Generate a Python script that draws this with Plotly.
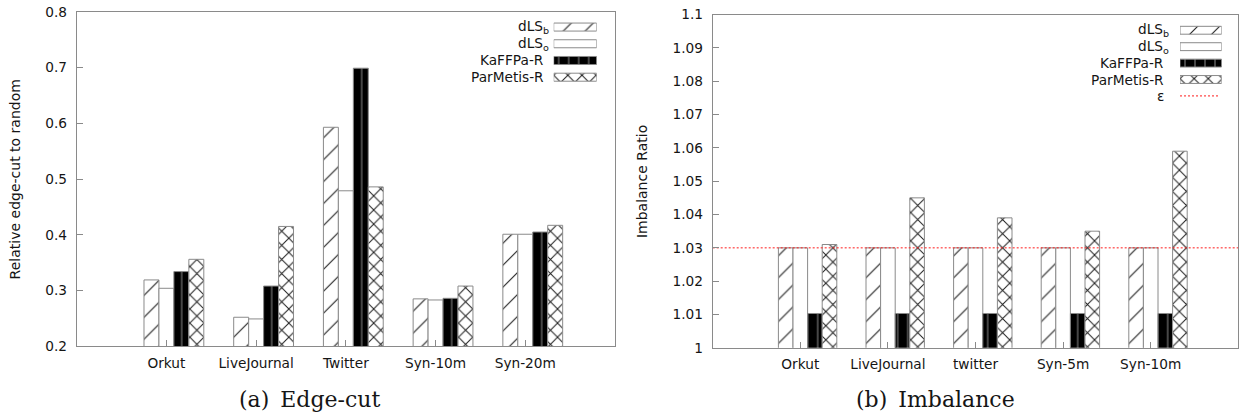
import plotly.graph_objects as go

W, H = 1245, 419
# vertical calibration of the photographed page (observed: y_photo = V_SCALE * y_layout + V_OFF)
V_SCALE, V_OFF = 0.961, 7.76

# ---------------- data ----------------
CATS_A = ["Orkut", "LiveJournal", "Twitter", "Syn-10m", "Syn-20m"]
CATS_B = ["Orkut", "LiveJournal", "twitter", "Syn-5m", "Syn-10m"]
SERIES = ["dLS<sub>b</sub>", "dLS<sub>o</sub>", "KaFFPa-R", "ParMetis-R"]
EPS_LABEL = "ε"

EDGECUT_DLSB = [0.319, 0.252, 0.593, 0.285, 0.401]
EDGECUT_DLSO = [0.304, 0.249, 0.479, 0.283, 0.401]
EDGECUT_KAFFPA = [0.334, 0.308, 0.699, 0.286, 0.405]
EDGECUT_PARMETIS = [0.356, 0.415, 0.486, 0.308, 0.417]

IMB_DLSB = [1.030, 1.030, 1.030, 1.030, 1.030]
IMB_DLSO = [1.030, 1.030, 1.030, 1.030, 1.030]
IMB_KAFFPA = [1.0103, 1.0103, 1.0103, 1.0103, 1.0103]
IMB_PARMETIS = [1.031, 1.045, 1.039, 1.035, 1.059]
EPSILON = 1.03

YTICKS_A = [0.2, 0.3, 0.4, 0.5, 0.6, 0.7, 0.8]
YTICKTEXT_A = ["0.2", "0.3", "0.4", "0.5", "0.6", "0.7", "0.8"]
YTICKS_B = [1.0, 1.01, 1.02, 1.03, 1.04, 1.05, 1.06, 1.07, 1.08, 1.09, 1.1]
YTICKTEXT_B = ["1", "1.01", "1.02", "1.03", "1.04", "1.05", "1.06", "1.07", "1.08", "1.09", "1.1"]

YTITLE_A = "Relative edge-cut to random"
YTITLE_B = "Imbalance Ratio"
CAPTION_A = "(a)\u2002Edge-cut"
CAPTION_B = "(b)\u2002Imbalance"

# ---------------- styles ----------------
EDGE = "#8a8a8a"
HATCH = "#1e1e1e"
TXT = "#151515"
FONT = "DejaVu Sans"
FS = 13.7
BAR_W = 1 / 6

STYLES = [
    dict(color="white", line=dict(color=EDGE, width=1),
         pattern=dict(shape="/", fgcolor=HATCH, bgcolor="white", size=15.5, solidity=0.07, fillmode="replace")),
    dict(color="white", line=dict(color=EDGE, width=1)),
    dict(color="black", line=dict(color=EDGE, width=1),
         pattern=dict(shape="|", fgcolor="#8f8f8f", bgcolor="black", size=10, solidity=0.1, fillmode="replace")),
    dict(color="white", line=dict(color=EDGE, width=1),
         pattern=dict(shape="x", fgcolor=HATCH, bgcolor="white", size=10, solidity=0.19, fillmode="replace")),
]
EPS_LINE = dict(color="#ff1a1a", width=1, dash="2px,2px")

fig = go.Figure()

def add_panel(values_list, xa, ya):
    for i, vals in enumerate(values_list):
        fig.add_trace(go.Bar(
            x=list(range(len(vals))), y=vals, width=BAR_W, offset=(i - 1.5) * BAR_W,
            marker=STYLES[i], xaxis=xa, yaxis=ya, showlegend=False, hoverinfo="skip"))

add_panel([EDGECUT_DLSB, EDGECUT_DLSO, EDGECUT_KAFFPA, EDGECUT_PARMETIS], "x", "y")
add_panel([IMB_DLSB, IMB_DLSO, IMB_KAFFPA, IMB_PARMETIS], "x2", "y2")

# epsilon reference line across panel (b)
fig.add_trace(go.Scatter(x=[-1, 5], y=[EPSILON, EPSILON], mode="lines", line=EPS_LINE,
                         xaxis="x2", yaxis="y2", showlegend=False, hoverinfo="skip"))

# ---------------- custom legends (text left of swatch) ----------------
def add_legend(xa, ya, with_eps):
    for i in range(len(SERIES)):
        fig.add_trace(go.Bar(
            x=[1], y=[i], base=0, orientation="h", width=0.48, marker=STYLES[i],
            xaxis=xa, yaxis=ya, showlegend=False, hoverinfo="skip"))
    if with_eps:
        fig.add_trace(go.Scatter(
            x=[0, 0.95], y=[len(SERIES), len(SERIES)], mode="lines", line=EPS_LINE,
            xaxis=xa, yaxis=ya, showlegend=False, hoverinfo="skip"))

add_legend("x3", "y3", False)
add_legend("x4", "y4", True)

def px_x(p):
    return p / W

def px_y(p):
    return 1 - ((p - V_OFF) / V_SCALE) / H

axis_common = dict(showgrid=False, zeroline=False, showline=True, linecolor=EDGE, linewidth=1,
                   mirror=True, ticks="inside", ticklen=6, tickcolor=EDGE, tickwidth=1,
                   ticklabeloverflow="allow",
                   tickfont=dict(family=FONT, size=FS, color=TXT))

L_ROW0, L_STEP = 26.8, 16.7
R_ROW0, R_STEP = 30.0, 16.4

fig.update_layout(
    width=W, height=H, margin=dict(l=0, r=0, t=0, b=0),
    paper_bgcolor="white", plot_bgcolor="rgba(0,0,0,0)",
    barmode="overlay", showlegend=False,
    font=dict(family=FONT, size=FS, color=TXT),
    xaxis=dict(domain=[px_x(76.7), px_x(615)], range=[-1, 5], tickvals=list(range(5)), ticktext=CATS_A,
               anchor="y", ticklabelstandoff=4, **axis_common),
    yaxis=dict(domain=[px_y(345.7), px_y(11.7)], range=[0.2, 0.8], tickvals=YTICKS_A, ticktext=YTICKTEXT_A,
               anchor="x", ticklabelstandoff=6, **axis_common),
    xaxis2=dict(domain=[px_x(712.7), px_x(1238.3)], range=[-1, 5], tickvals=list(range(5)), ticktext=CATS_B,
                anchor="y2", ticklabelstandoff=4, **axis_common),
    yaxis2=dict(domain=[px_y(347.3), px_y(14.3)], range=[1.0, 1.1], tickvals=YTICKS_B, ticktext=YTICKTEXT_B,
                anchor="x2", ticklabelstandoff=6, **axis_common),
    xaxis3=dict(domain=[px_x(553.7), px_x(596.7)], range=[0, 1], visible=False, anchor="y3", fixedrange=True),
    yaxis3=dict(domain=[px_y(L_ROW0 + 3.5 * L_STEP), px_y(L_ROW0 - 0.5 * L_STEP)], range=[3.5, -0.5],
                visible=False, anchor="x3", fixedrange=True),
    xaxis4=dict(domain=[px_x(1180), px_x(1221.7)], range=[0, 1], visible=False, anchor="y4", fixedrange=True),
    yaxis4=dict(domain=[px_y(R_ROW0 + 4.5 * R_STEP), px_y(R_ROW0 - 0.5 * R_STEP)], range=[4.5, -0.5],
                visible=False, anchor="x4", fixedrange=True),
)

ann = []
# legend labels
for i, name in enumerate(SERIES):
    ann.append(dict(text=name, xref="paper", yref="paper", x=px_x(546), y=px_y(L_ROW0 + i * L_STEP),
                    xanchor="right", yanchor="middle", showarrow=False,
                    xshift=5 if "<sub>" in name else 0, font=dict(family=FONT, size=FS, color=TXT)))
for i, name in enumerate(SERIES + [EPS_LABEL]):
    ann.append(dict(text=name, xref="paper", yref="paper", x=px_x(1166), y=px_y(R_ROW0 + i * R_STEP),
                    xanchor="right", yanchor="middle", showarrow=False,
                    xshift=5 if "<sub>" in name else 0, font=dict(family=FONT, size=FS, color=TXT)))
# axis titles
ann.append(dict(text=YTITLE_A, xref="paper", yref="paper", x=px_x(15), y=px_y(179), textangle=-90,
                xanchor="center", yanchor="middle", showarrow=False,
                font=dict(family=FONT, size=14, color=TXT)))
ann.append(dict(text=YTITLE_B, xref="paper", yref="paper", x=px_x(642), y=px_y(181.7), textangle=-90,
                xanchor="center", yanchor="middle", showarrow=False,
                font=dict(family=FONT, size=14, color=TXT)))
# captions
ann.append(dict(text=CAPTION_A, xref="paper", yref="paper", x=px_x(309), y=px_y(399),
                xanchor="center", yanchor="middle", showarrow=False,
                font=dict(family="DejaVu Serif", size=22, color=TXT)))
ann.append(dict(text=CAPTION_B, xref="paper", yref="paper", x=px_x(935), y=px_y(399),
                xanchor="center", yanchor="middle", showarrow=False,
                font=dict(family="DejaVu Serif", size=22, color=TXT)))
fig.update_layout(annotations=ann)

fig.write_html("out.html", config={"displayModeBar": False},
               post_script="document.documentElement.style.margin='0px';document.body.style.margin='0px';")
